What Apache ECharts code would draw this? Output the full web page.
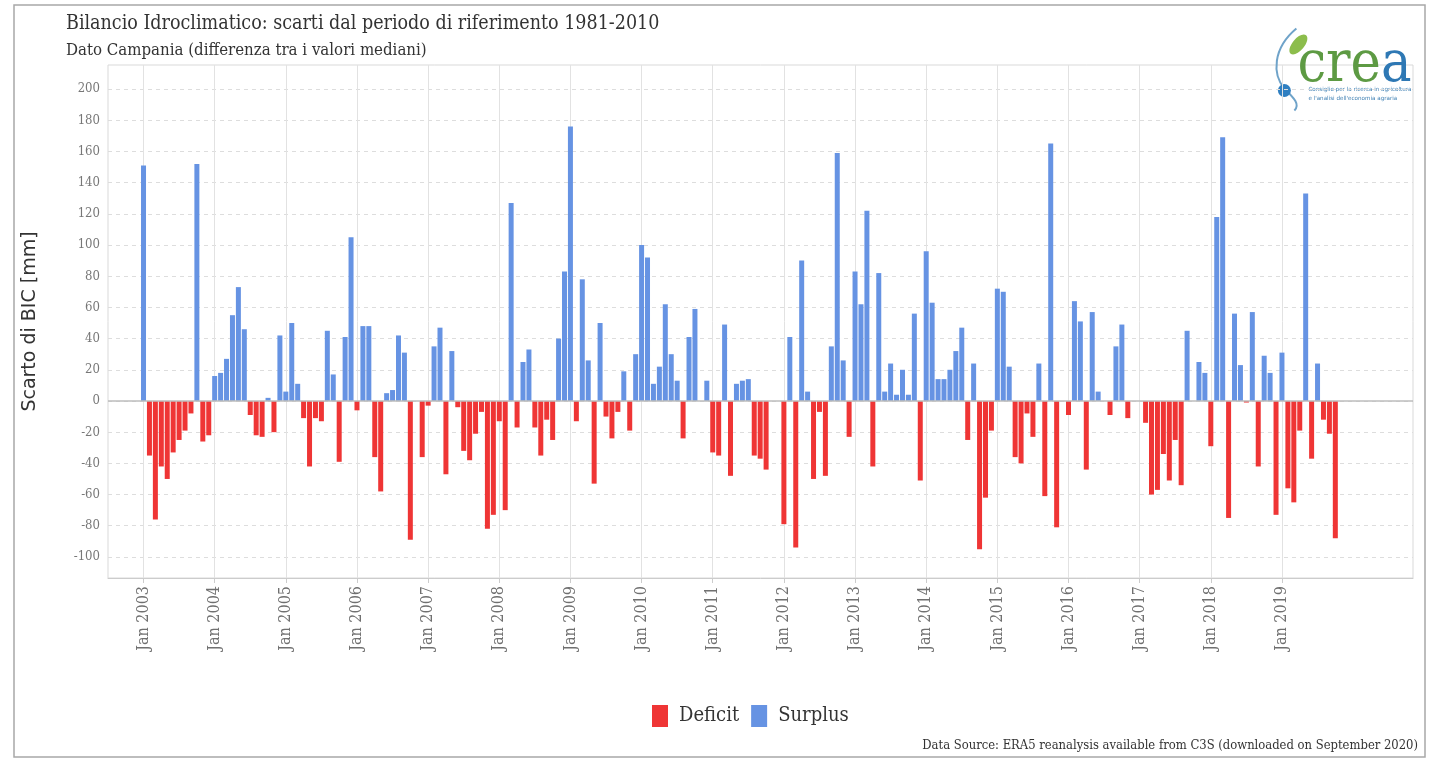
<!DOCTYPE html>
<html>
<head>
<meta charset="utf-8">
<script src="https://cdn.jsdelivr.net/npm/echarts@6/dist/echarts.min.js"></script>
<style>
  html, body { margin: 0; padding: 0; background: #ffffff; }
  #chart { width: 1434px; height: 761px; }
</style>
</head>
<body>
<div id="chart"></div>
<script>
// Monthly climatic water balance anomalies (mm), Campania, vs 1981-2010 medians
const years = [2003, 2004, 2005, 2006, 2007, 2008, 2009, 2010, 2011, 2012, 2013, 2014, 2015, 2016, 2017, 2018, 2019];
const tickLabels = years.map(y => 'Jan ' + y);
const yTicks = [-100, -80, -60, -40, -20, 0, 20, 40, 60, 80, 100, 120, 140, 160, 180, 200];

const bic2003 = [151, -35, -76, -42, -50, -33, -25, -19, -8, 152, -26, -22];
const bic2004 = [16, 18, 27, 55, 73, 46, -9, -22, -23, 2, -20, 42];
const bic2005 = [6, 50, 11, -11, -42, -11, -13, 45, 17, -39, 41, 105];
const bic2006 = [-6, 48, 48, -36, -58, 5, 7, 42, 31, -89, 0, -36];
const bic2007 = [-3, 35, 47, -47, 32, -4, -32, -38, -21, -7, -82, -73];
const bic2008 = [-13, -70, 127, -17, 25, 33, -17, -35, -12, -25, 40, 83];
const bic2009 = [176, -13, 78, 26, -53, 50, -10, -24, -7, 19, -19, 30];
const bic2010 = [100, 92, 11, 22, 62, 30, 13, -24, 41, 59, 0, 13];
const bic2011 = [-33, -35, 49, -48, 11, 13, 14, -35, -37, -44, 0, 0];
const bic2012 = [-79, 41, -94, 90, 6, -50, -7, -48, 35, 159, 26, -23];
const bic2013 = [83, 62, 122, -42, 82, 6, 24, 4, 20, 4, 56, -51];
const bic2014 = [96, 63, 14, 14, 20, 32, 47, -25, 24, -95, -62, -19];
const bic2015 = [72, 70, 22, -36, -40, -8, -23, 24, -61, 165, -81, 0];
const bic2016 = [-9, 64, 51, -44, 57, 6, 0, -9, 35, 49, -11, 0];
const bic2017 = [0, -14, -60, -57, -34, -51, -25, -54, 45, 0, 25, 18];
const bic2018 = [-29, 118, 169, -75, 56, 23, -1, 57, -42, 29, 18, -73];
const bic2019 = [31, -56, -65, -19, 133, -37, 24, -12, -21, -88];

const monthly = [].concat(bic2003, bic2004, bic2005, bic2006, bic2007, bic2008, bic2009,
  bic2010, bic2011, bic2012, bic2013, bic2014, bic2015, bic2016, bic2017, bic2018, bic2019);

// x = months elapsed since January of the first year
const points = monthly.map((v, i) => [i, v]);
const deficit = points.filter(p => p[1] < 0);
const surplus = points.filter(p => p[1] > 0);
const janTicks = years.map((y, i) => i * 12);

const SERIF = "'DejaVu Serif Condensed', 'DejaVu Serif', serif";
const RED = '#EF3535';
const BLUE = '#6693E3';

const chart = echarts.init(document.getElementById('chart'), null, { renderer: 'canvas' });

chart.setOption({
  backgroundColor: '#ffffff',
  animation: false,
  title: {
    text: 'Bilancio Idroclimatico: scarti dal periodo di riferimento 1981-2010',
    subtext: 'Dato Campania (differenza tra i valori mediani)',
    left: 61, top: 9, itemGap: 8,
    textStyle: { fontFamily: SERIF, fontSize: 19.5, fontWeight: 'normal', color: '#333' },
    subtextStyle: { fontFamily: SERIF, fontSize: 16.7, color: '#333' }
  },
  legend: {
    data: ['Deficit', 'Surplus'],
    left: 647, top: 700,
    itemWidth: 16, itemHeight: 22, itemGap: 12,
    icon: 'rect',
    textStyle: { fontFamily: SERIF, fontSize: 20, color: '#333', padding: [0, 0, 0, 6] }
  },
  grid: { left: 108, right: 21, top: 65, bottom: 183, show: true, borderColor: '#d9d9d9', borderWidth: 1 },
  xAxis: {
    type: 'value', min: -5.99, max: 214.1,
    axisLine: { onZero: false, lineStyle: { color: '#cccccc' } },
    axisTick: { show: true, customValues: janTicks, length: 5, lineStyle: { color: '#cccccc' } },
    axisLabel: {
      customValues: janTicks, rotate: 90, margin: 8,
      fontFamily: SERIF, fontSize: 16, color: '#707070',
      formatter: v => tickLabels[Math.round(v / 12)]
    },
    splitLine: { show: true, lineStyle: { color: '#e2e2e2', width: 1 } }
  },
  yAxis: {
    type: 'value', min: -113.5, max: 215.4,
    name: 'Scarto di BIC [mm]', nameLocation: 'middle', nameGap: 68,
    nameTextStyle: { fontFamily: "'DejaVu Sans', sans-serif", fontSize: 19, color: '#333' },
    axisLine: { show: false },
    axisTick: { show: false, customValues: yTicks },
    axisLabel: { customValues: yTicks, margin: 8, fontFamily: SERIF, fontSize: 13, color: '#777' },
    splitLine: { show: true, lineStyle: { color: '#dddddd', type: [4, 4], width: 1 } }
  },
  series: [
    {
      name: 'Deficit', type: 'bar', data: deficit, barWidth: 5, barGap: '-100%',
      itemStyle: { color: RED }
    },
    {
      name: 'Surplus', type: 'bar', data: surplus, barWidth: 5, barGap: '-100%',
      itemStyle: { color: BLUE },
      markLine: {
        silent: true, symbol: 'none', label: { show: false },
        lineStyle: { color: '#bdbdbd', type: 'solid', width: 1.5 },
        data: [{ yAxis: 0 }]
      }
    }
  ],
  graphic: [
    {
      type: 'rect', shape: { x: 14, y: 5, width: 1411, height: 752 },
      style: { fill: 'none', stroke: '#a8a8a8', lineWidth: 1.5 }, silent: true, z: -1
    },
    {
      type: 'text', right: 16, top: 739,
      style: {
        text: 'Data Source: ERA5 reanalysis available from C3S (downloaded on September 2020)',
        font: "12.9px " + SERIF, fill: '#333', textAlign: 'right'
      }
    },
    {
      type: 'group', left: 1274, top: 26,
      children: [
        { type: 'bezierCurve',
          shape: { x1: 26, y1: 6, cpx1: 2, cpy1: 26, cpx2: 2, cpy2: 52, x2: 14, y2: 66 },
          style: { fill: 'none', stroke: '#6fa3c9', lineWidth: 2 } },
        { type: 'bezierCurve',
          shape: { x1: 14, y1: 66, cpx1: 24, cpy1: 76, cpx2: 30, cpy2: 82, x2: 24, y2: 88 },
          style: { fill: 'none', stroke: '#6fa3c9', lineWidth: 2 } },
        { type: 'ellipse', shape: { cx: 28, cy: 22, rx: 6, ry: 12 }, rotation: -0.7, originX: 28, originY: 22,
          style: { fill: '#8cbd4c' } },
        { type: 'circle', shape: { cx: 14, cy: 68, r: 6.5 }, style: { fill: '#2f7fc1' } },
        { type: 'text', x: 27, y: 15,
          style: { text: '{g|cre}{b|a}', font: "57px " + SERIF,
            rich: { g: { font: "57px " + SERIF, fill: '#5d9a43' }, b: { font: "57px " + SERIF, fill: '#2e78b4' } } } },
        { type: 'text', x: 38, y: 63,
          style: { text: 'Consiglio per la ricerca in agricoltura\ne l\'analisi dell\'economia agraria',
            font: "5.6px 'DejaVu Sans'", fill: '#3d7fb3', lineHeight: 9 } }
      ]
    }
  ]
});
</script>
</body>
</html>
